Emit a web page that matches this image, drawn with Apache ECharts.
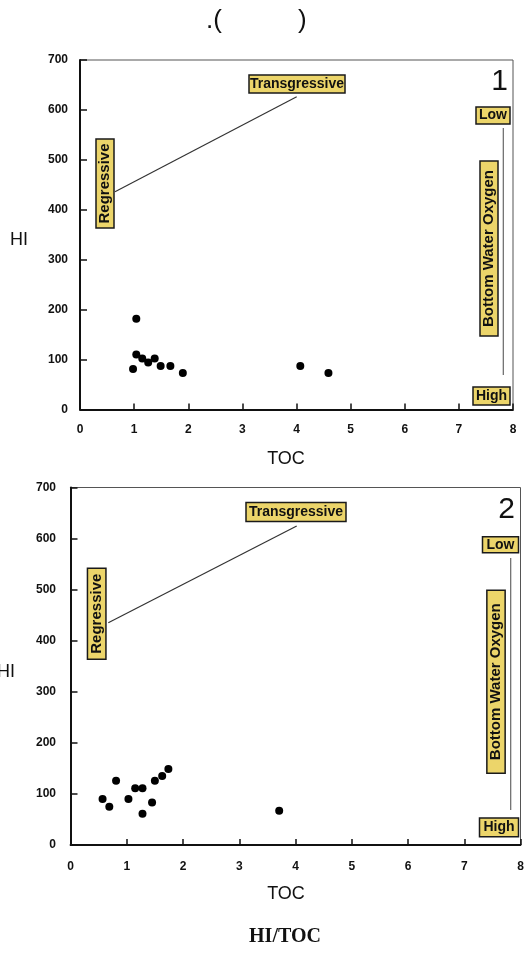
<!DOCTYPE html>
<html>
<head>
<meta charset="utf-8">
<script src="https://cdn.jsdelivr.net/npm/echarts@6/dist/echarts.min.js"></script>
<style>
html,body{margin:0;padding:0;background:#fff;}
#chart{width:528px;height:956px;}
</style>
</head>
<body>
<div id="chart"></div>
<script>
// ---- data ----
const xTicks = [0, 1, 2, 3, 4, 5, 6, 7, 8];
const yTicks = [0, 100, 200, 300, 400, 500, 600, 700];
const toc1 = [0.98, 1.04, 1.04, 1.15, 1.26, 1.38, 1.49, 1.67, 1.90, 4.07, 4.59];
const hi1  = [81, 182, 110, 102, 94, 102, 87, 87, 73, 87, 73];
const toc2 = [0.57, 0.69, 0.81, 1.03, 1.15, 1.28, 1.28, 1.45, 1.50, 1.63, 1.74, 3.71];
const hi2  = [90, 75, 126, 90, 111, 111, 61, 83, 126, 135, 149, 67];
const panelLabels = ['1', '2'];
const xName = 'TOC';
const yName = 'HI';
const caption = 'HI/TOC';

const chart = echarts.init(document.getElementById('chart'), null, {renderer: 'canvas'});

const FONT = '"Liberation Sans", Arial, Helvetica, sans-serif';
const YELLOW = '#ecd56a';

function box(cx, cy, w, h, text, fs, vertical) {
  const rw = vertical ? h : w, rh = vertical ? w : h;
  return [
    {type: 'rect', z: 50, shape: {x: cx - rw / 2, y: cy - rh / 2, width: rw, height: rh},
     style: {fill: YELLOW, stroke: '#1a1a1a', lineWidth: 1.5}},
    {type: 'text', z: 51, x: cx, y: cy, rotation: vertical ? Math.PI / 2 : 0,
     style: {text: text, fill: '#111', font: 'bold ' + fs + 'px ' + FONT,
             textAlign: 'center', textVerticalAlign: 'middle', align: 'center', verticalAlign: 'middle'}}
  ];
}
function line(x1, y1, x2, y2, color, w) {
  return {type: 'line', z: 40, shape: {x1, y1, x2, y2}, style: {stroke: color, lineWidth: w}};
}
function txt(x, y, text, font, align, extra) {
  return Object.assign({type: 'text', z: 60, x: x, y: y,
    style: {text: text, fill: '#111', font: font, textAlign: align, textVerticalAlign: 'middle',
            align: align, verticalAlign: 'middle'}}, extra || {});
}

const graphics = [].concat(
  // top caption
  [txt(222, 21, '.(', '26px ' + FONT, 'right'), txt(298, 21, ')', '26px ' + FONT, 'left')],
  // panel 1 annotations
  box(297, 84, 96, 18, 'Transgressive', 14, false),
  [line(296.7, 96.7, 115, 191.7, '#333', 1.2)],
  box(105, 183.5, 89, 18, 'Regressive', 15, true),
  [txt(508, 82, panelLabels[0], '30px ' + FONT, 'right')],
  box(493, 115.5, 34, 17, 'Low', 14, false),
  [line(503.3, 128, 503.3, 375, '#666', 1.2)],
  box(489, 248.5, 175, 18, 'Bottom Water Oxygen', 15, true),
  box(491.5, 396, 37, 18, 'High', 14, false),
  [txt(286, 459, xName, '18px ' + FONT, 'center'), txt(28, 240, yName, '18px ' + FONT, 'right')],
  // panel 2 annotations
  box(296, 512, 100, 19, 'Transgressive', 14, false),
  [line(296.7, 526, 108.3, 622.7, '#333', 1.2)],
  box(96.7, 613.7, 91, 18.5, 'Regressive', 15, true),
  [txt(515, 510, panelLabels[1], '30px ' + FONT, 'right')],
  box(500.5, 544.7, 36, 16, 'Low', 14, false),
  [line(510.7, 558, 510.7, 810, '#666', 1.2)],
  box(496, 681.7, 183, 18.3, 'Bottom Water Oxygen', 15, true),
  box(499, 827.3, 39, 18.7, 'High', 14, false),
  [txt(286, 894, xName, '18px ' + FONT, 'center'), txt(15, 672, yName, '18px ' + FONT, 'right')],
  // bottom caption
  [txt(285, 937, caption, 'bold 20px "Liberation Serif", "Times New Roman", serif', 'center')]
);

function xAxis(gi) {
  return {
    type: 'value', gridIndex: gi, min: xTicks[0], max: xTicks[xTicks.length - 1], interval: 1,
    axisLine: {show: true, onZero: false, lineStyle: {color: '#111', width: 1.8}},
    axisTick: {show: true, inside: true, length: 6, lineStyle: {color: '#111', width: 1.5}},
    axisLabel: {show: true, margin: gi === 0 ? 14 : 16, color: '#111', fontSize: 12, fontWeight: 'bold', fontFamily: FONT},
    splitLine: {show: false}
  };
}
function yAxis(gi) {
  return {
    type: 'value', gridIndex: gi, min: yTicks[0], max: yTicks[yTicks.length - 1], interval: 100,
    axisLine: {show: true, onZero: false, lineStyle: {color: '#111', width: 2}},
    axisTick: {show: true, inside: true, length: 7, lineStyle: {color: '#111', width: 1.5}},
    axisLabel: {show: true, margin: gi === 0 ? 12 : 14.5, color: '#111', fontSize: 12, fontWeight: 'bold', fontFamily: FONT},
    splitLine: {show: false}
  };
}

const option = {
  backgroundColor: '#fff',
  animation: false,
  grid: [
    {left: 80, top: 60, width: 433, height: 349.5, show: true, borderColor: '#555', borderWidth: 1, containLabel: false},
    {left: 70.5, top: 487.5, width: 450, height: 357.5, show: true, borderColor: '#555', borderWidth: 1, containLabel: false}
  ],
  xAxis: [xAxis(0), xAxis(1)],
  yAxis: [yAxis(0), yAxis(1)],
  series: [
    {type: 'scatter', xAxisIndex: 0, yAxisIndex: 0, symbol: 'circle', symbolSize: 8,
     itemStyle: {color: '#000', opacity: 1}, data: toc1.map((v, i) => [v, hi1[i]])},
    {type: 'scatter', xAxisIndex: 1, yAxisIndex: 1, symbol: 'circle', symbolSize: 8,
     itemStyle: {color: '#000', opacity: 1}, data: toc2.map((v, i) => [v, hi2[i]])}
  ],
  graphic: graphics
};
chart.setOption(option);
</script>
</body>
</html>
